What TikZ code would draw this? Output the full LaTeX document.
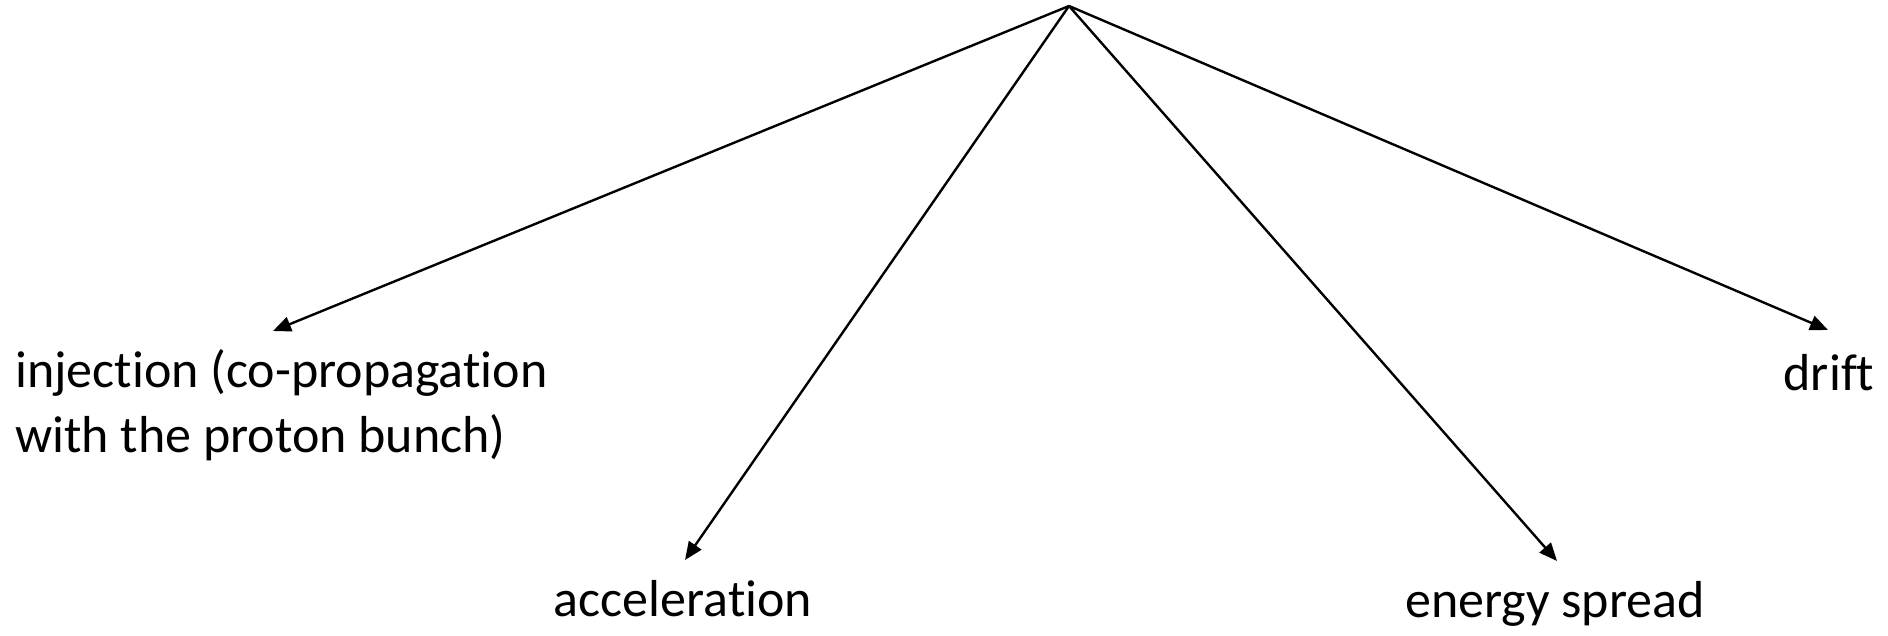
\documentclass[tikz,border=0pt]{standalone}
\usepackage{fontspec}
\setmainfont{Carlito}[Ligatures={NoCommon,NoRare}]
\usetikzlibrary{arrows.meta}
\begin{document}
\begin{tikzpicture}[x=1pt,y=-1pt,
  conn/.style={line width=2.4pt,-{Triangle[length=18pt,width=15pt]}},
  lbl/.style={inner sep=0pt,font=\fontsize{52}{65}\selectfont}]
\useasboundingbox (0,0) rectangle (1888,636);
\coordinate (apex) at (1069,6);
\coordinate (tinj) at (273,331);
\coordinate (tacc) at (685,560);
\coordinate (tene) at (1557,561);
\coordinate (tdri) at (1828,330);
\node[lbl,anchor=base west,align=left] (inj) at (15,452) {injection (co-propagation\\with the proton bunch)};
\node[lbl,anchor=base] (acc) at (683,616) {acceleration};
\node[lbl,anchor=base] (ene) at (1555,617) {energy spread};
\node[lbl,anchor=base] (dri) at (1829,390) {drift};
\draw[conn] (apex) -- (tinj);
\draw[conn] (apex) -- (tacc);
\draw[conn] (apex) -- (tene);
\draw[conn] (apex) -- (tdri);
\end{tikzpicture}
\end{document}
